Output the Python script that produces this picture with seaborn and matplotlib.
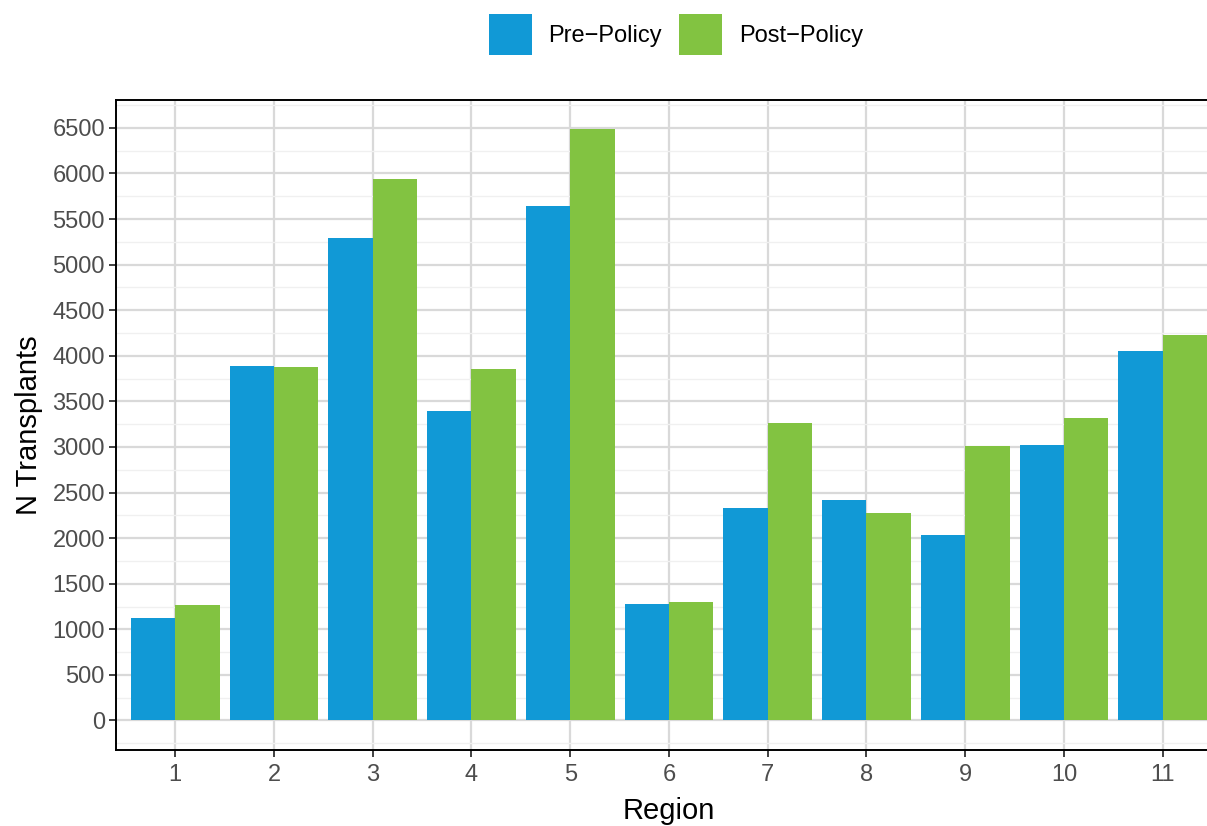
import pandas as pd
import numpy as np
import matplotlib
matplotlib.use('Agg')
import matplotlib.pyplot as plt
from matplotlib.ticker import MultipleLocator
import seaborn as sns

# Data
regions = ['1', '2', '3', '4', '5', '6', '7', '8', '9', '10', '11']
pre_policy = [1127, 3892, 5297, 3399, 5648, 1280, 2334, 2422, 2036, 3025, 4057]
post_policy = [1270, 3881, 5944, 3860, 6482, 1302, 3267, 2279, 3014, 3321, 4232]
periods = ['Pre\u2212Policy', 'Post\u2212Policy']
colors = ['#1199d6', '#82c341']

df = pd.DataFrame({
    'Region': regions * 2,
    'Period': [periods[0]] * len(regions) + [periods[1]] * len(regions),
    'N': pre_policy + post_policy,
})

sns.set_style('white')
plt.rcParams['font.family'] = ['Liberation Sans', 'DejaVu Sans']

fig = plt.figure(figsize=(12.07, 8.26), dpi=100)
ax = fig.add_axes([0.0961, 0.092, 0.9163, 0.787])

sns.barplot(data=df, x='Region', y='N', hue='Period', order=regions,
            hue_order=periods, palette=colors, saturation=1, width=0.9,
            gap=0, linewidth=0, ax=ax, zorder=3)

handles, labels = ax.get_legend_handles_labels()
ax.get_legend().remove()

ax.set_xlim(-0.6, len(regions) - 0.4)
ax.set_ylim(-324, 6806)
ax.yaxis.set_major_locator(MultipleLocator(500))
ax.yaxis.set_minor_locator(MultipleLocator(250))

# ggplot-ish grid
ax.set_axisbelow(True)
ax.grid(which='major', axis='both', color='#d9d9d9', linewidth=1.6, zorder=0)
ax.grid(which='minor', axis='y', color='#f0f0f0', linewidth=1.0, zorder=0)

for side in ['top', 'bottom', 'left', 'right']:
    ax.spines[side].set_visible(True)
    ax.spines[side].set_color('black')
    ax.spines[side].set_linewidth(1.4)

ax.tick_params(which='major', length=5, width=1.3, color='#333333',
               labelsize=17, labelcolor='#4d4d4d', pad=3,
               bottom=True, left=True)
ax.tick_params(axis='x', pad=5)
ax.tick_params(which='minor', length=0)

ax.set_xlabel('Region', fontsize=21, labelpad=8, color='black')
ax.set_ylabel('N Transplants', fontsize=21, labelpad=7, color='black')

leg = fig.legend(handles, labels, loc='center', bbox_to_anchor=(0.56, 0.958),
                 ncol=2, frameon=False, fontsize=17, handlelength=1.82,
                 handleheight=2.3, handletextpad=0.72, columnspacing=0.72)
for t in leg.get_texts():
    t.set_color('black')

fig.savefig('out.png', dpi=100)
plt.close(fig)
